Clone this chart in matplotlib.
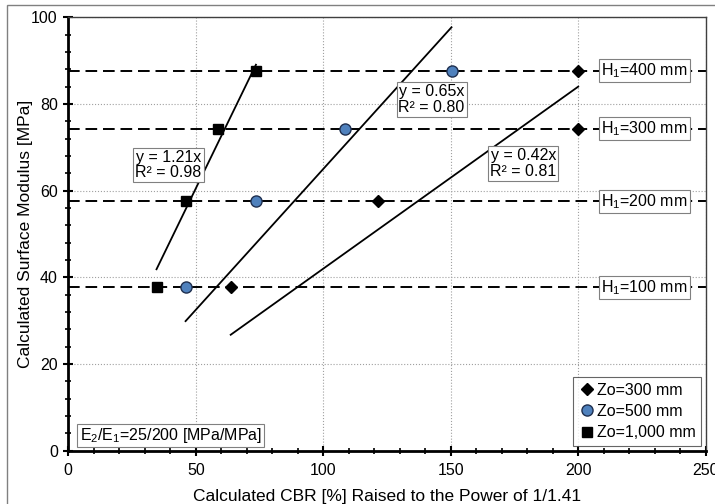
import matplotlib.pyplot as plt
from matplotlib.patches import Rectangle
from matplotlib.ticker import MultipleLocator

plt.rcParams['font.family'] = ['Liberation Sans', 'DejaVu Sans']

# data
h1_levels = [37.7, 57.5, 74.3, 87.7]
h1_labels = ['100', '200', '300', '400']

zo300_x = [63.7, 121.6, 200.0, 200.0]
zo500_x = [46.0, 73.6, 108.5, 150.3]
zo1000_x = [34.6, 46.0, 58.8, 73.6]
mod_y = [37.7, 57.5, 74.3, 87.7]

slopes = [0.42, 0.65, 1.21]
r2 = [0.81, 0.80, 0.98]

fig = plt.figure(figsize=(7.15, 5.04), dpi=100)
fig.patches.append(Rectangle((7 / 715, -0.5), 2, 0.99 + 0.5, transform=fig.transFigure,
                             facecolor='none', edgecolor='#808080', lw=1.0))
ax = fig.add_axes([0.0955, 0.1057, 0.8915, 0.86])

# horizontal dashed H1 lines
for yv, lab in zip(h1_levels, h1_labels):
    ax.axhline(yv, color='black', lw=1.4, dashes=(6, 3), zorder=2)
    ax.text(226.0, yv, '$\\mathregular{H_1}$=' + lab + ' mm', fontsize=11.5, ha='center', va='center',
            zorder=4, bbox=dict(boxstyle='square,pad=0.12', fc='white', ec='#808080', lw=0.8))

# trendlines through origin across each series' range
for xs, k in zip([zo300_x, zo500_x, zo1000_x], slopes):
    x0, x1 = min(xs), max(xs)
    ax.plot([x0, x1], [k * x0, k * x1], color='black', lw=1.3, zorder=3)

ax.plot(zo300_x, mod_y, 'D', color='black', ms=6.5, ls='none', zorder=5, label='Zo=300 mm')
ax.plot(zo500_x, mod_y, 'o', mfc='#4F81BD', mec='#1F2F4F', mew=1.0, ms=8, ls='none', zorder=5,
        label='Zo=500 mm')
ax.plot(zo1000_x, mod_y, 's', color='black', ms=7.5, ls='none', zorder=5, label='Zo=1,000 mm')

# equation boxes
eq_pos = [(178.5, 66.3), (142.5, 81.0), (39.3, 65.9)]
for (tx, ty), k, r in zip(eq_pos, slopes, r2):
    ax.text(tx, ty, 'y = %.2fx\nR² = %.2f' % (k, r), fontsize=11.5, ha='center', va='center',
            linespacing=1.05, zorder=4,
            bbox=dict(boxstyle='square,pad=0.12', fc='white', ec='#808080', lw=0.8))

ax.text(4.5, 3.5, '$\\mathregular{E_2/E_1}$=25/200 [MPa/MPa]', fontsize=11.5, ha='left', va='center',
        bbox=dict(boxstyle='square,pad=0.15', fc='white', ec='#808080', lw=0.8), zorder=4)

ax.set_xlim(0, 250)
ax.set_ylim(0, 100)
ax.xaxis.set_major_locator(MultipleLocator(50))
ax.xaxis.set_minor_locator(MultipleLocator(10))
ax.yaxis.set_major_locator(MultipleLocator(20))
ax.yaxis.set_minor_locator(MultipleLocator(4))
ax.tick_params(which='major', direction='inout', length=7, width=1.5, labelsize=11.5, colors='black')
ax.tick_params(which='minor', direction='inout', length=5, width=1.2)
ax.tick_params(axis='x', pad=5)
ax.tick_params(axis='y', pad=4)
ax.grid(True, which='major', color='#A0A0A0', ls=':', lw=0.8)
ax.set_axisbelow(True)

ax.spines['left'].set_linewidth(2)
ax.spines['bottom'].set_linewidth(2)
ax.spines['top'].set_linewidth(1)
ax.spines['right'].set_linewidth(1)
ax.spines['top'].set_color('#404040')
ax.spines['right'].set_color('#404040')

ax.set_xlabel('Calculated CBR [%] Raised to the Power of 1/1.41', fontsize=12.5, labelpad=8)
ax.set_ylabel('Calculated Surface Modulus [MPa]', fontsize=12.5, labelpad=-1.5)

leg = ax.legend(loc='lower right', fontsize=11.5, frameon=True, fancybox=False, handletextpad=0.1,
                handlelength=1.0, borderpad=0.35, labelspacing=0.4, borderaxespad=0.3)
leg.get_frame().set_edgecolor('#404040')
leg.get_frame().set_linewidth(0.8)

fig.savefig('out.png', dpi=100)
